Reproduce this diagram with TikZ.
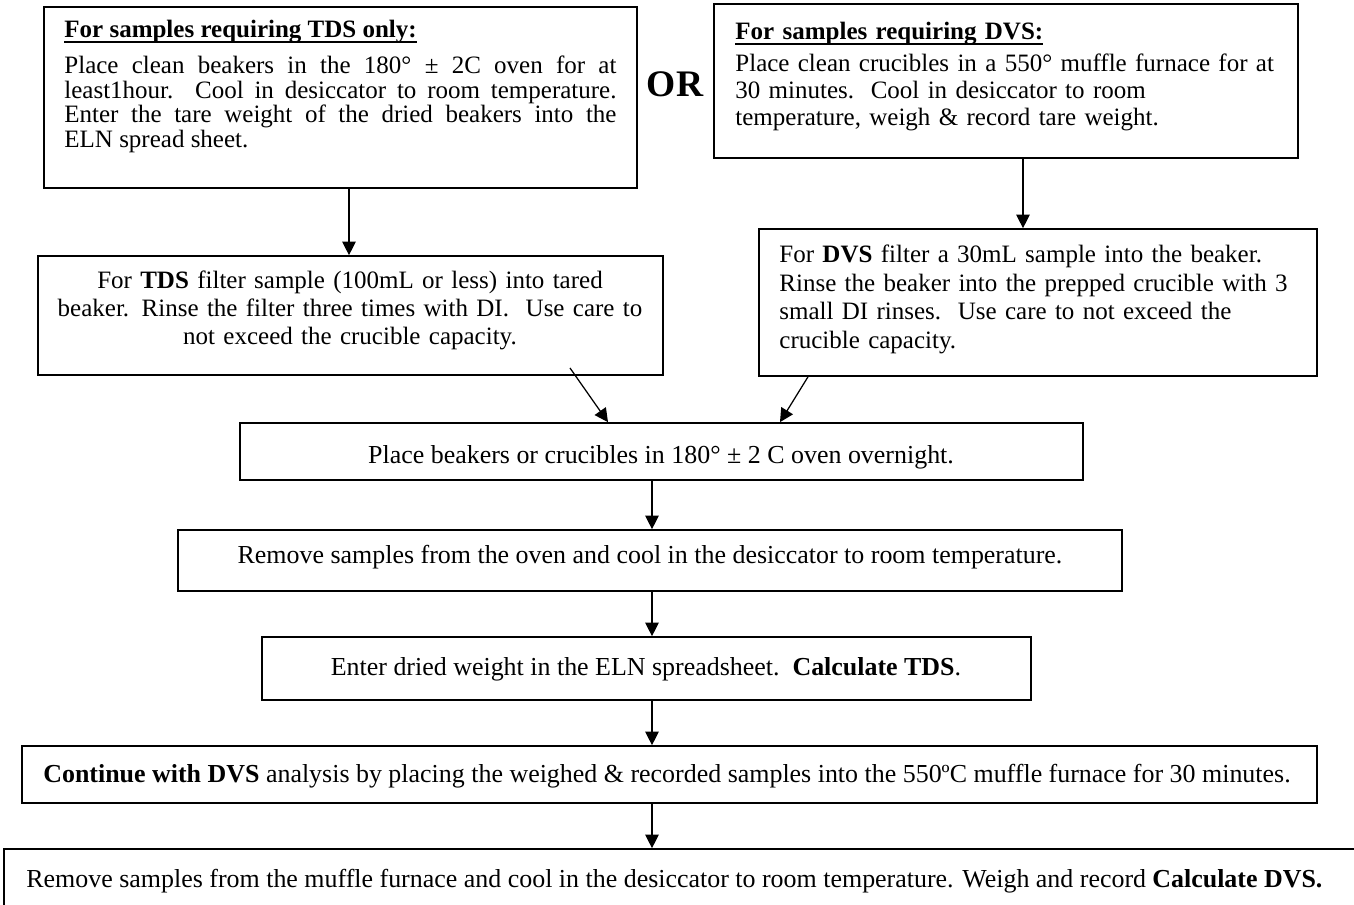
\documentclass[tikz,border=0pt]{standalone}
\usepackage{fontspec}
\setmainfont{Liberation Serif}
\usetikzlibrary{arrows.meta,fit}
\lineskiplimit=-20pt
\newsavebox\ulbox
\newcommand{\thul}[1]{\sbox\ulbox{#1}\rlap{\rule[-2.4pt]{\wd\ulbox}{0.9pt}}\usebox\ulbox}
\begin{document}
\begin{tikzpicture}[x=0.48pt,y=-0.48pt,
  box/.style={draw,line width=0.8pt,inner sep=0pt},
  txt/.style={inner sep=0pt,text width=330pt},
  one/.style={inner sep=0pt,font=\fontsize{12.45}{14}\selectfont},
  arr/.style={-{Triangle[length=6.5pt,width=6.5pt]},line width=0.6pt}]
\clip (0,0) rectangle (1354,905);
\fill[white] (0,0) rectangle (1354,905);
% boxes
\node[box,fit={(44,7)(637,188)}] (b1) {};
\node[box,fit={(714,4)(1298,158)}] (b2) {};
\node[box,fit={(38,256)(663,375)}] (b3) {};
\node[box,fit={(759,229)(1317,376)}] (b4) {};
\node[box,fit={(240,423)(1083,480)}] (b5) {};
\node[box,fit={(178,530)(1122,591)}] (b6) {};
\node[box,fit={(262,637)(1031,700)}] (b7) {};
\node[box,fit={(22,746)(1317,803)}] (b8) {};
\node[box,fit={(4,849)(1380,960)}] (b9) {};
% texts
\node[inner sep=0pt,text width=265pt,align=justify,anchor=base west,font=\fontsize{12}{11.76}\selectfont] (t1) at (64,38)
 {\thul{\textbf{For samples requiring TDS only:}}\\[5.4pt]
  Place~clean~beakers~in~the~180°~±~2C~oven~for~at\linebreak
  least1hour.~~Cool~in~desiccator~to~room~temperature.\linebreak
  Enter~the~tare~weight~of~the~dried~beakers~into~the\linebreak
  ELN~spread~sheet.};
\node[inner sep=0pt,anchor=base,font=\fontsize{18}{20}\selectfont\bfseries] (or) at (675,97) {OR};
\node[txt,anchor=base west,align=left,font=\fontsize{12}{12.96}\selectfont] (t2) at (735,40)
 {\thul{\textbf{For samples requiring DVS:}}\\[2.2pt]
  Place clean crucibles in a 550° muffle furnace for at\\
  30 minutes.\ \ Cool in desiccator to room\\
  temperature, weigh \& record tare weight.};
\node[txt,anchor=base,align=center,font=\fontsize{12}{13.44}\selectfont] (t3) at (350,289)
 {For \textbf{TDS} filter sample (100mL or less) into tared\\
  beaker. Rinse the filter three times with DI.\ \ Use care to\\
  not exceed the crucible capacity.};
\node[txt,anchor=base west,align=left,font=\fontsize{12}{13.68}\selectfont] (t4) at (779,263)
 {For \textbf{DVS} filter a 30mL sample into the beaker.\\
  Rinse the beaker into the prepped crucible with 3\\
  small DI rinses.\ \ Use care to not exceed the\\
  crucible capacity.};
\node[one,anchor=base] (t5) at (661,464)
 {Place beakers or crucibles in 180° ± 2 C oven overnight.};
\node[one,anchor=base] (t6) at (650,564)
 {Remove samples from the oven and cool in the desiccator to room temperature.};
\node[one,anchor=base] (t7) at (646,676)
 {Enter dried weight in the ELN spreadsheet.\ \ \textbf{Calculate TDS}.};
\node[one,anchor=base] (t8) at (667,783)
 {\textbf{Continue with DVS} analysis by placing the weighed \& recorded samples into the 550ºC muffle furnace for 30 minutes.};
\node[one,anchor=base west] (t9) at (26,888)
 {Remove samples from the muffle furnace and cool in the desiccator to room temperature. Weigh and record \textbf{Calculate DVS.}};
% connector helpers
\coordinate (xa) at (349,0);
\coordinate (xb) at (1023,0);
\coordinate (xm) at (652,0);
\coordinate (d1s) at (570,368);
\coordinate (d1e) at (608,0);
\coordinate (d2s) at (808,0);
\coordinate (d2e) at (780,0);
% connectors
\draw[arr] (b1.south -| xa) -- (b3.north -| xa);
\draw[arr] (b2.south -| xb) -- (b4.north -| xb);
\draw[arr] (d1s) -- (b5.north -| d1e);
\draw[arr] (b4.south -| d2s) -- (b5.north -| d2e);
\draw[arr] (b5.south -| xm) -- (b6.north -| xm);
\draw[arr] (b6.south -| xm) -- (b7.north -| xm);
\draw[arr] (b7.south -| xm) -- (b8.north -| xm);
\draw[arr] (b8.south -| xm) -- (b9.north -| xm);
\end{tikzpicture}
\end{document}
